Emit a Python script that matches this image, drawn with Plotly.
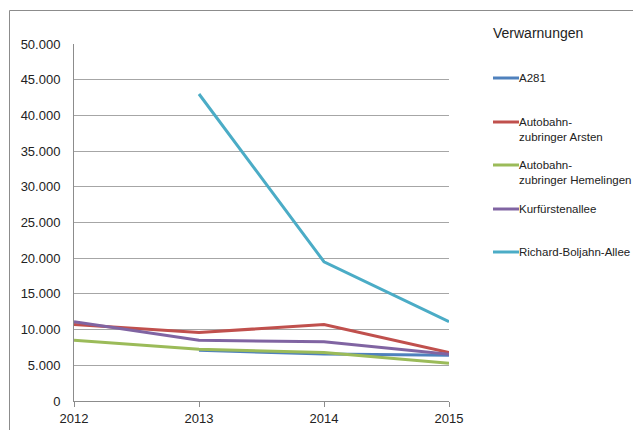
import plotly.graph_objects as go

years = [2012, 2013, 2014, 2015]
series_names = ["A281", "Autobahn-<br>zubringer Arsten", "Autobahn-<br>zubringer Hemelingen",
                "Kurfürstenallee", "Richard-Boljahn-Allee"]
a281 = [None, 7100, 6600, 6400]
arsten = [10700, 9600, 10700, 6800]
hemelingen = [8500, 7250, 6800, 5300]
kurfuersten = [11100, 8500, 8300, 6550]
richard = [None, 43000, 19500, 11100]
values = [a281, arsten, hemelingen, kurfuersten, richard]
colors = ["#4F81BD", "#C0504D", "#9BBB59", "#8064A2", "#4BACC6"]
y_ticks = list(range(0, 50001, 5000))
legend_title = "Verwarnungen"

FONT = "Liberation Sans, Arial, sans-serif"

fig = go.Figure()
for name, vals, col in zip(series_names, values, colors):
    fig.add_trace(go.Scatter(x=years, y=vals, mode="lines", name=name.replace("<br>", " "),
                             line=dict(color=col, width=3), connectgaps=False,
                             showlegend=False))

W, H = 633, 430
L, R, T, B = 74, 184, 44, 29
pw, ph = W - L - R, H - T - B

def px(x):
    return (x - L) / pw

def py(y):
    return (H - B - y) / ph

# outer chart frame
fig.add_shape(type="rect", xref="paper", yref="paper",
              x0=px(9.5), x1=px(700), y0=py(500), y1=py(10.5),
              line=dict(color="#8c8c8c", width=1), layer="below")

# manual legend
fig.add_annotation(xref="paper", yref="paper", x=px(491), y=py(33), text=legend_title,
                   showarrow=False, xanchor="left", yanchor="middle",
                   font=dict(family=FONT, size=14, color="#222"))
item_y = [78, 122, 165, 209, 252]
for name, col, yy in zip(series_names, colors, item_y):
    fig.add_shape(type="line", xref="paper", yref="paper", x0=px(493), x1=px(519),
                  y0=py(yy), y1=py(yy), line=dict(color=col, width=3))
    fig.add_annotation(xref="paper", yref="paper", x=px(517), y=py(yy - 8), text=name,
                       showarrow=False, xanchor="left", yanchor="top", align="left",
                       font=dict(family=FONT, size=11.5, color="#222"))

fig.update_layout(
    width=W, height=H,
    margin=dict(l=L, r=R, t=T, b=B, pad=0, autoexpand=False),
    plot_bgcolor="white", paper_bgcolor="white",
    separators=",.",
    showlegend=False,
    font=dict(family=FONT, size=13, color="#222"),
)
fig.update_xaxes(range=[2012, 2015], tickmode="array", tickvals=years,
                 ticktext=[str(y) for y in years], showgrid=False,
                 showline=True, linecolor="#8c8c8c", linewidth=1,
                 ticks="outside", ticklen=5, tickcolor="#8c8c8c", zeroline=False,
                 fixedrange=True, automargin=False)
fig.update_yaxes(range=[0, 50000], tickmode="array", tickvals=y_ticks,
                 ticktext=[f"{v:,}".replace(",", ".") for v in y_ticks],
                 showgrid=True, gridcolor="#a6a6a6", gridwidth=1,
                 showline=True, linecolor="#8c8c8c", linewidth=1,
                 ticks="outside", ticklen=10, tickcolor="rgba(0,0,0,0)",
                 zeroline=False, fixedrange=True, automargin=False)

fig.write_html("out.html")
